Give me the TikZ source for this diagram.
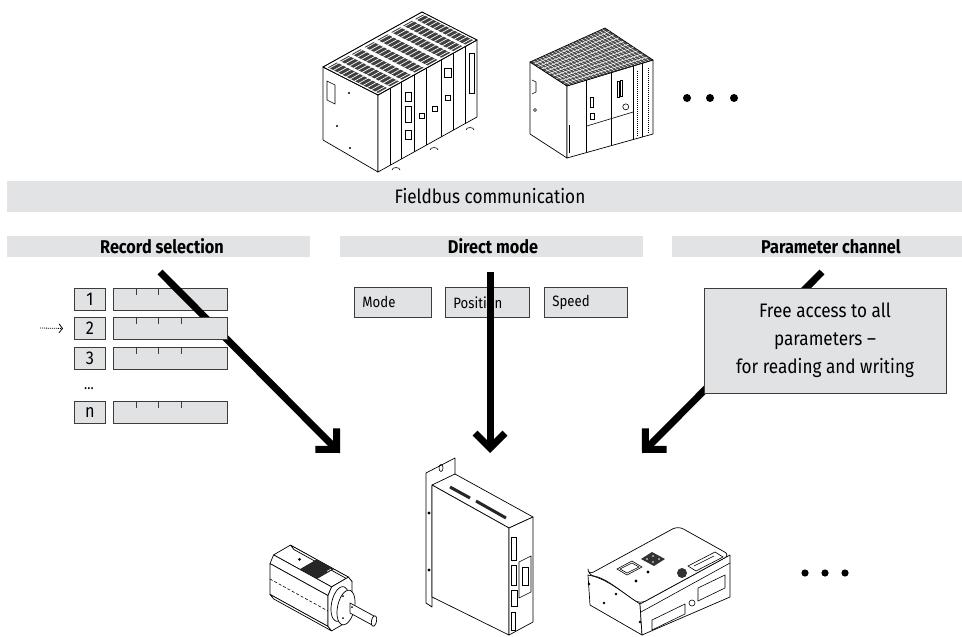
\documentclass[tikz,border=0pt]{standalone}
\usepackage{fontspec}
\setmainfont{Fira Sans}[FakeStretch=0.88]
\usetikzlibrary{arrows.meta,calc}
\definecolor{barcol}{RGB}{226,227,229}
\definecolor{boxfill}{RGB}{225,226,228}
\definecolor{boxline}{RGB}{60,60,60}
\tikzset{
  barbox/.style={fill=barcol, draw=none, inner sep=0pt, anchor=north west},
  graybox/.style={fill=boxfill, draw=boxline, line width=0.9pt, inner sep=0pt},
  bigarrow/.style={line width=7pt, -{Straight Barb[length=15pt, width=30pt]}},
  dev/.style={draw=black, line width=0.7pt, fill=white, line join=round},
  devline/.style={draw=black, line width=0.6pt},
  hdr/.style={font=\fontsize{18.5}{21}\selectfont\bfseries},
  plain/.style={font=\fontsize{19.5}{22}\selectfont},
  numf/.style={font=\fontsize{18.5}{22}\selectfont},
  small/.style={font=\fontsize{15}{17}\selectfont},
}
\begin{document}
\begin{tikzpicture}[x=1pt,y=-1pt]
\useasboundingbox (0,0) rectangle (962,637);

% ---------------- PLC 1 (modular) ----------------
\coordinate (p1BLT) at (323,67);
\coordinate (p1FLT) at (378,95);
\coordinate (p1FRT) at (477,40);
\coordinate (p1BRT) at (422,12);
\coordinate (p1FLB) at (378,172);
\coordinate (p1BLB) at (323,140);
\coordinate (p1FRB) at (477,117);
\draw[dev] (p1BLT) -- (p1FLT) -- (p1FLB) -- (p1BLB) -- cycle;
\draw[dev] (p1FLT) -- (p1FRT) -- (p1FRB) -- (p1FLB) -- cycle;
\draw[dev] (p1BLT) -- (p1BRT) -- (p1FRT) -- (p1FLT) -- cycle;
\foreach \a/\b in {0.02/0.11,0.14/0.23,0.26/0.35,0.39/0.48,0.52/0.62,0.66/0.75,0.78/0.87,0.90/0.98}{
  \fill[black!75] ($(p1FLT)!\a!(p1FRT)+(-2,-1)$) -- ($(p1FLT)!\b!(p1FRT)+(-2,-1)$) -- ++(-50,-25.5) -- ($(p1FLT)!\a!(p1FRT)+(-52,-26.5)$) -- cycle;
}
\foreach \k in {1,...,12}{
  \draw[white, line width=0.7pt] ($(p1FLT)+\k*(-4.2,-2.15)$) -- ($(p1FRT)+\k*(-4.2,-2.15)$);
}
\draw[devline] (p1BLT) -- (p1BRT) -- (p1FRT) -- (p1FLT) -- cycle;
\foreach \s in {0.12,0.24,0.37,0.49,0.64,0.76,0.88}{
  \draw[devline] ($(p1FLT)!\s!(p1FRT)$) -- ($(p1FLB)!\s!(p1FRB)$);
}
% module details
\draw[devline] ($(p1FLT)!0.27!(p1FRT)+(1,12)$) rectangle ++(6,9);
\draw[devline] ($(p1FLT)!0.27!(p1FRT)+(1,26)$) rectangle ++(6,16);
\draw[devline] ($(p1FLT)!0.27!(p1FRT)+(1,50)$) rectangle ++(6,9);
\draw[devline] ($(p1FLT)!0.40!(p1FRT)+(2,40)$) rectangle ++(5,5);
\draw[devline] ($(p1FLT)!0.53!(p1FRT)+(2,40)$) rectangle ++(5,5);
\draw[devline] ($(p1FLT)!0.66!(p1FRT)+(1,10)$) rectangle ++(7,9);
\draw[devline] ($(p1FLT)!0.66!(p1FRT)+(2,37)$) rectangle ++(5,5);
\draw[devline] ($(p1FLT)!0.91!(p1FRT)+(1,8)$) rectangle ++(5,40);
\draw[devline] (327,81) -- (335,85) -- (335,104) -- (327,100) -- cycle;
\fill (349,93) circle (1.2) (350,148) circle (1.2) (337,126) circle (1.2);
\draw[devline] (392,170) arc (180:360:4 and 2.5);
\draw[devline] (430,150) arc (180:360:4 and 2.5);
\draw[devline] (466,130) arc (180:360:4 and 2.5);

% ---------------- PLC 2 ----------------
\coordinate (p2BLT) at (530,62);
\coordinate (p2BRT) at (605,28);
\coordinate (p2FRT) at (653,60);
\coordinate (p2FLT) at (567,86);
\coordinate (p2FLB) at (567,158);
\coordinate (p2FRB) at (653,134);
\coordinate (p2BLB) at (530,134);
\draw[dev] (p2BLT) -- (p2FLT) -- (p2FLB) -- (p2BLB) -- cycle;
\draw[dev] (p2FLT) -- (p2FRT) -- (p2FRB) -- (p2FLB) -- cycle;
\begin{scope}
  \clip (p2BLT) -- (p2BRT) -- (p2FRT) -- (p2FLT) -- cycle;
  \fill[black!70] (p2BLT) -- (p2BRT) -- (p2FRT) -- (p2FLT) -- cycle;
  \foreach \k in {1,...,9}{
    \draw[white, line width=0.6pt] ($(p2FLT)!\k/10!(p2BLT)$) -- ($(p2FRT)!\k/10!(p2BRT)$);
  }
  \foreach \k in {1,...,24}{
    \draw[white, line width=0.5pt] ($(p2FLT)!\k/25!(p2FRT)$) -- ($(p2BLT)!\k/25!(p2BRT)$);
  }
\end{scope}
\draw[devline] (p2BLT) -- (p2BRT) -- (p2FRT) -- (p2FLT) -- cycle;
\foreach \s in {0.23,0.52,0.77,0.88}{
  \draw[devline] ($(p2FLT)!\s!(p2FRT)$) -- ($(p2FLB)!\s!(p2FRB)$);
}
\draw[devline] ($(p2FLT)!0.23!(p2FRT)+(0,46)$) -- ($(p2FLT)!0.77!(p2FRT)+(0,46)$);
\draw[devline, dash pattern=on 1pt off 1pt] ($(p2FLT)!0.82!(p2FRT)+(0,6)$) -- ++(0,66);
\draw[devline, dash pattern=on 1pt off 1pt] ($(p2FLT)!0.94!(p2FRT)+(0,6)$) -- ++(0,66);
\draw[devline] ($(p2FLT)!0.27!(p2FRT)+(0,18)$) rectangle ++(3,10);
\draw[devline] ($(p2FLT)!0.27!(p2FRT)+(0,34)$) rectangle ++(4,6);
\draw[devline] ($(p2FLT)!0.58!(p2FRT)+(0,10)$) rectangle ++(2,16);
\draw[devline] ($(p2FLT)!0.62!(p2FRT)+(0,10)$) rectangle ++(2,16);
\draw[devline] ($(p2FLT)!0.66!(p2FRT)+(2,38)$) circle (3);
\draw[devline] ($(p2FLT)!0.03!(p2FRT)+(0,40)$) -- ++(0,28);
\draw[devline] (532,80) -- (536,82) -- (536,92) -- (532,94);
\draw[devline] (535,110) circle (1.5);

% dots top
\fill (687,98) circle (4) (710,98) circle (4) (734,98) circle (4);

% ---------------- bars ----------------
\node[barbox, minimum width=955, minimum height=31] (fbbar) at (7,181) {};
\node[plain] (fbtext) at (490,196.5) {Fieldbus communication};
\node[barbox, minimum width=303, minimum height=21] (rsbar) at (7,236) {};
\node[hdr] (rstext) at (162,246.5) {Record selection};
\node[barbox, minimum width=303, minimum height=21] (dmbar) at (340,236) {};
\node[hdr] (dmtext) at (493,246.5) {Direct mode};
\node[barbox, minimum width=290, minimum height=21] (pcbar) at (672,236) {};
\node[hdr] (pctext) at (831,246.5) {Parameter channel};

% ---------------- Record selection ----------------
\coordinate (rsS) at (160,272);
\coordinate (rsT) at (340,453);
\node[graybox, minimum width=31, minimum height=22, anchor=north west, numf] (n1) at (74,288) {1};
\node[graybox, minimum width=114, minimum height=22, anchor=north west] (r1) at (113,288) {};
\foreach \x in {23,45,68}{\draw[boxline, line width=0.9pt] ($(r1.north west)+(\x,0)$) -- ++(0,7);}
\draw[bigarrow] (rsS) -- (rsT);
\node[graybox, minimum width=31, minimum height=22, anchor=north west, numf] (n2) at (74,317) {2};
\node[graybox, minimum width=114, minimum height=22, anchor=north west] (r2) at (113,317) {};
\foreach \x in {23,45,68}{\draw[boxline, line width=0.9pt] ($(r2.north west)+(\x,0)$) -- ++(0,7);}
\node[graybox, minimum width=31, minimum height=22, anchor=north west, numf] (n3) at (74,347) {3};
\node[graybox, minimum width=114, minimum height=22, anchor=north west] (r3) at (113,347) {};
\foreach \x in {23,45,68}{\draw[boxline, line width=0.9pt] ($(r3.north west)+(\x,0)$) -- ++(0,7);}
\node[small] (rdots) at (89,389) {...};
\node[graybox, minimum width=31, minimum height=22, anchor=north west, numf] (nn) at (74,401) {n};
\node[graybox, minimum width=114, minimum height=22, anchor=north west] (rn) at (113,401) {};
\foreach \x in {23,45,68}{\draw[boxline, line width=0.9pt] ($(rn.north west)+(\x,0)$) -- ++(0,7);}
\coordinate (selS) at (40,328);
\draw[line width=0.8pt, dash pattern=on 1pt off 1pt, -{Straight Barb[length=3.5pt, width=9pt]}] (selS) -- ($(n2.west)+(-11,0)$);

% ---------------- Direct mode ----------------
\node[graybox, minimum height=30, anchor=north west, text width=61, inner xsep=8pt, align=left, small] (bmode) at (354,287) {Mode};
\node[graybox, minimum height=30, anchor=north west, text width=68, inner xsep=8pt, align=left, small] (bpos) at (445,287) {Position};
\node[graybox, minimum height=30, anchor=north west, text width=67, inner xsep=8pt, align=left, small] (bspeed) at (544,287) {Speed};
\coordinate (dmS) at (490,272);
\coordinate (dmT) at (490,453);
\draw[bigarrow] (dmS) -- (dmT);

% ---------------- Parameter channel ----------------
\coordinate (pcS) at (822,272);
\coordinate (pcT) at (642,453);
\draw[bigarrow] (pcS) -- (pcT);
\node[graybox, minimum width=242, minimum height=105, align=center, font=\fontsize{19.5}{28}\selectfont] (pbox) at (825,340.5) {Free access to all\\parameters --\\for reading and writing};

% ---------------- Motor ----------------
\coordinate (v1) at (270,563.6); \coordinate (v2) at (273.6,554.9);
\coordinate (v3) at (290.4,545.1); \coordinate (v4) at (294,549.6);
\coordinate (v7) at (273.6,598.9); \coordinate (v8) at (270,594.4);
\coordinate (f1) at (328,595.6); \coordinate (f2) at (331.6,586.9);
\coordinate (f3) at (348.4,577.1); \coordinate (f4) at (352,581.6);
\coordinate (f5) at (352,612.4); \coordinate (f6) at (348.4,621.1);
\coordinate (f7) at (331.6,630.9); \coordinate (f8) at (328,626.4);
\draw[dev] (v2) -- (v3) -- (f3) -- (f2) -- cycle;
\draw[dev] (v3) -- (v4) -- (f4) -- (f3) -- cycle;
\draw[dev] (v1) -- (v2) -- (f2) -- (f1) -- cycle;
\draw[dev] (v8) -- (v1) -- (f1) -- (f8) -- cycle;
\draw[dev] (v7) -- (v8) -- (f8) -- (f7) -- cycle;
\fill[black!85] ($(v2)!0.45!(f2)$) -- ($(v3)!0.45!(f3)$) -- ($(v3)!0.75!(f3)$) -- ($(v2)!0.75!(f2)$) -- cycle;
\draw[white, line width=0.6pt] ($(v2)!0.55!(f2)!0.3!(v3)!0.55!(f3)$) -- ++(4,-2.3);
\fill ($(v2)!0.2!(f2)!0.4!(v3)!0.2!(f3)$) circle (1.5);
\draw[devline, dash pattern=on 3pt off 2pt] ($(v1)!0.5!(v8)$) -- ($(f1)!0.5!(f8)$);
\draw[dev] (f1) -- (f2) -- (f3) -- (f4) -- (f5) -- (f6) -- (f7) -- (f8) -- cycle;
\draw[dev] plot[domain=0:360, samples=41, variable=\t] ({340+0.75*12*cos(\t)}, {604+0.75*(-7*cos(\t)+22*sin(\t))}) -- cycle;
\draw[dev] plot[domain=0:360, samples=41, variable=\t] ({346+0.75*12*cos(\t)}, {607.5+0.75*(-7*cos(\t)+22*sin(\t))}) -- cycle;
\draw[dev] (350,603) -- (374,616) -- (374,626) -- (350,613) -- cycle;
\draw[dev] plot[domain=0:360, samples=31, variable=\t] ({374+0.22*12*cos(\t)}, {621+0.22*(-7*cos(\t)+22*sin(\t))}) -- cycle;
\fill (343,596) circle (1) (343,618) circle (1) (352,607) circle (1);

% ---------------- Controller ----------------
\draw[dev] (426,473) -- (455,458) -- (455,476) -- (432,486) -- (432,607) -- (426,603) -- cycle;
\draw[devline] (441,468) ellipse (2 and 3.5);
\coordinate (cA) at (432,485); \coordinate (cB) at (455,474);
\coordinate (cC) at (533,517); \coordinate (cD) at (509,528);
\coordinate (cE) at (509,635); \coordinate (cF) at (533,622);
\coordinate (cG) at (432,597);
\draw[dev] (cA) -- (cB) -- (cC) -- (cD) -- cycle;
\draw[dev] (cA) -- (cD) -- (cE) -- (cG) -- cycle;
\draw[dev] (cD) -- (cC) -- (cF) -- (cE) -- cycle;
\draw[line width=3pt, black!85] (450,487) -- (470,498);
\draw[line width=3pt, black!85] (476,501) -- (506,518);
\fill (429,513) circle (1.6) (429,570) circle (1.6);
\draw[devline] (511,537) rectangle (516,560);
\draw[devline] (511,565) rectangle (516,585);
\draw[devline] (511,590) rectangle (517,606);
\draw[devline] (511,612) rectangle (515,630);
\draw[devline] (519,562) -- (531,556) -- (531,592) -- (519,598) -- cycle;
\draw[devline] (522,567) rectangle (528,585);

% ---------------- Box device ----------------
\coordinate (bL) at (588,575); \coordinate (bF) at (640,604);
\coordinate (bR) at (730,555); \coordinate (bB) at (678,526);
\coordinate (bFB) at (642,635); \coordinate (bRB) at (730,597);
\coordinate (bLB) at (590,605);
\draw[dev] (bL) .. controls (606,578) and (622,592) .. (bF) -- (bFB) -- (bLB) -- cycle;
\draw[dev] (bF) -- (bR) -- (bRB) -- (bFB) -- cycle;
\draw[dev, rounded corners=6pt] (bL) -- (bB) -- (bR) -- (bF) .. controls (622,592) and (606,578) .. (bL) -- cycle;
\draw[devline] ($(bF)+(1,8)$) -- ($(bR)+(0,8)$);
\draw[devline] (617,569) -- (632,561) -- (642,567) -- (627,575) -- cycle;
\draw[devline] (620,569) -- (632,563) -- (639,567) -- (627,573) -- cycle;
\fill[black!80] (641,559) -- (652,552) -- (665,559) -- (654,566) -- cycle;
\fill[white] (647,559) circle (0.9) (653,556) circle (0.9) (659,559) circle (0.9) (653,562) circle (0.9);
\fill (648,572) circle (1.6) (636,581) circle (1.6);
\fill[black!80] (682,573) circle (5);
\draw[devline] (688,566) -- (715,552) -- (723,557) -- (696,571) -- cycle;
\draw[devline] (694,566) -- (714,556);
\draw[devline] (652,620) -- (685,604) -- (685,614) -- (652,630) -- cycle;
\draw[devline] (698,588) -- (725,575) -- (725,588) -- (698,601) -- cycle;
\draw[devline] (692,603) circle (3);
\fill (589,584) circle (1.3) (604,603) circle (1.3) (616,594) circle (1.3) (640,622) circle (1.3);

% dots bottom
\fill (805,573) circle (3.6) (825,573) circle (3.6) (845,573) circle (3.6);
\end{tikzpicture}
\end{document}
